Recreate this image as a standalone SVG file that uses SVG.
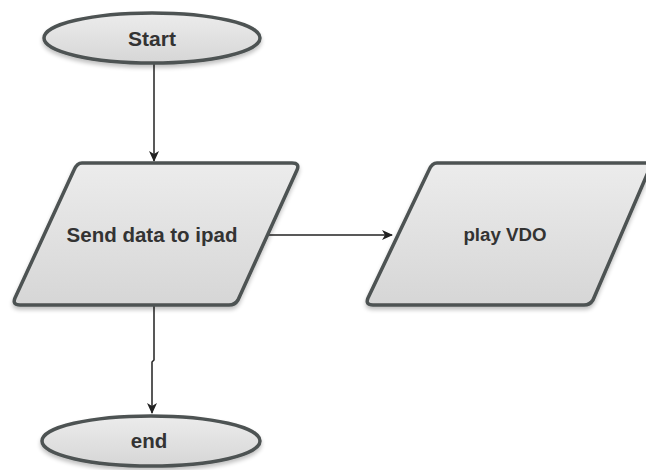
<svg xmlns="http://www.w3.org/2000/svg" width="646" height="470" viewBox="0 0 646 470">
<defs>
<linearGradient id="g" x1="0" y1="0" x2="0" y2="1">
<stop offset="0" stop-color="#ececec"/>
<stop offset="1" stop-color="#d6d6d6"/>
</linearGradient>
<filter id="sh" x="-10%" y="-10%" width="120%" height="130%">
<feGaussianBlur in="SourceAlpha" stdDeviation="2"/>
<feOffset dx="0" dy="3"/>
<feComponentTransfer><feFuncA type="linear" slope="0.25"/></feComponentTransfer>
<feMerge><feMergeNode/><feMergeNode in="SourceGraphic"/></feMerge>
</filter>
<marker id="arr" markerWidth="12" markerHeight="12" refX="10" refY="6" orient="auto" markerUnits="userSpaceOnUse">
<path d="M0,1 L11,6 L0,11 L3,6 Z" fill="#222"/>
</marker>
</defs>
<style>
.shape{fill:url(#g);stroke:#4d5252;stroke-width:3.5;stroke-linejoin:round;filter:url(#sh)}
.lbl{font-family:"Liberation Sans",Arial,sans-serif;font-weight:bold;fill:#333;text-anchor:middle}
.conn{stroke:#222;stroke-width:1.5;fill:none;marker-end:url(#arr)}
</style>
<rect width="646" height="470" fill="#fff"/>
<g id="connectors">
<path class="conn" d="M154,64 L154,161"/>
<path class="conn" d="M267,235 L392,235"/>
<path class="conn" d="M154,306 L154,360 L152,362 L152,413"/>
</g>
<g id="start">
<ellipse class="shape" cx="152" cy="38" rx="108" ry="25"/>
<text class="lbl" x="152" y="46" font-size="21">Start</text>
</g>
<g id="send">
<path class="shape" d="M82,163 L292,163 Q300,163 297,170 L238,300 Q235,305 229,305 L20,305 Q12,305 15,298 L74,170 Q77,163 82,163 Z"/>
<text class="lbl" x="152" y="242" font-size="20.5">Send data to ipad</text>
</g>
<g id="play">
<path class="shape" d="M437,163 L652,163 L593,300 Q590,305 584,305 L373,305 Q365,305 368,298 L429,170 Q432,163 437,163 Z"/>
<text class="lbl" x="505" y="241" font-size="18.7">play VDO</text>
</g>
<g id="end">
<ellipse class="shape" cx="151" cy="441" rx="109" ry="25"/>
<text class="lbl" x="149" y="448" font-size="20.5">end</text>
</g>
</svg>
